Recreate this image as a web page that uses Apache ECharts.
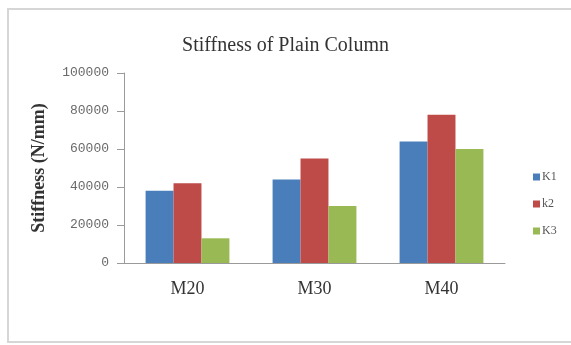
<!DOCTYPE html>
<html>
<head>
<meta charset="utf-8">
<script src="https://cdn.jsdelivr.net/npm/echarts@6/dist/echarts.min.js"></script>
<style>
  html, body { margin: 0; padding: 0; background: #fff; }
  #chart { width: 571px; height: 345px; }
</style>
</head>
<body>
<div id="chart"></div>
<script>
// Concrete grades on the x axis
const categories = ['M20', 'M30', 'M40'];
// Stiffness values (N/mm) per series
const k1Values = [38000, 44000, 64000];
const k2Values = [42000, 55000, 78000];
const k3Values = [13000, 30000, 60000];
const seriesNames = ['K1', 'k2', 'K3'];
const seriesColors = ['#4a7ebb', '#be4b48', '#98b954'];

const chart = echarts.init(document.getElementById('chart'), null, { renderer: 'canvas' });

const serif = '"Liberation Serif", "Times New Roman", serif';

function barSeries(name, data, color) {
  return {
    name: name,
    type: 'bar',
    data: data,
    barGap: '0%',
    barCategoryGap: '34%',
    itemStyle: { color: color },
    emphasis: { disabled: true }
  };
}

chart.setOption({
  animation: false,
  backgroundColor: '#ffffff',
  graphic: [{
    type: 'rect',
    shape: { x: 8, y: 9, width: 640, height: 333 },
    style: { fill: 'none', stroke: '#d6d6d6', lineWidth: 2 },
    silent: true,
    z: -1
  }],
  title: {
    text: 'Stiffness of Plain Column',
    left: 'center',
    top: 31,
    textStyle: { fontFamily: serif, fontSize: 20, fontWeight: 'normal', color: '#333' }
  },
  legend: {
    orient: 'vertical',
    left: 528,
    top: 166,
    itemWidth: 7,
    itemHeight: 7,
    itemGap: 15,
    icon: 'rect',
    textStyle: { fontFamily: serif, fontSize: 12, color: '#555', padding: [0, 0, 0, -3] },
    data: seriesNames
  },
  grid: { left: 124, right: 66, top: 73, bottom: 82, containLabel: false },
  xAxis: {
    type: 'category',
    data: categories,
    axisLine: { lineStyle: { color: '#9a9a9a', width: 1 } },
    axisTick: { show: false },
    axisLabel: { fontFamily: serif, fontSize: 18, color: '#333', margin: 17 }
  },
  yAxis: {
    type: 'value',
    min: 0,
    max: 100000,
    interval: 20000,
    name: 'Stiffness (N/mm)',
    nameLocation: 'middle',
    nameGap: 76,
    nameTextStyle: { fontFamily: serif, fontSize: 18, fontWeight: 'bold', color: '#333' },
    axisLine: { show: true, lineStyle: { color: '#9a9a9a', width: 1 } },
    axisTick: { show: true, length: 7, lineStyle: { color: '#9a9a9a' } },
    splitLine: { show: false },
    axisLabel: {
      fontFamily: '"Liberation Mono", monospace',
      fontSize: 13,
      color: '#6a6a6a',
      margin: 15,
      formatter: function (v) { return String(v); }
    }
  },
  series: [
    barSeries(seriesNames[0], k1Values, seriesColors[0]),
    barSeries(seriesNames[1], k2Values, seriesColors[1]),
    barSeries(seriesNames[2], k3Values, seriesColors[2])
  ]
});
</script>
</body>
</html>
